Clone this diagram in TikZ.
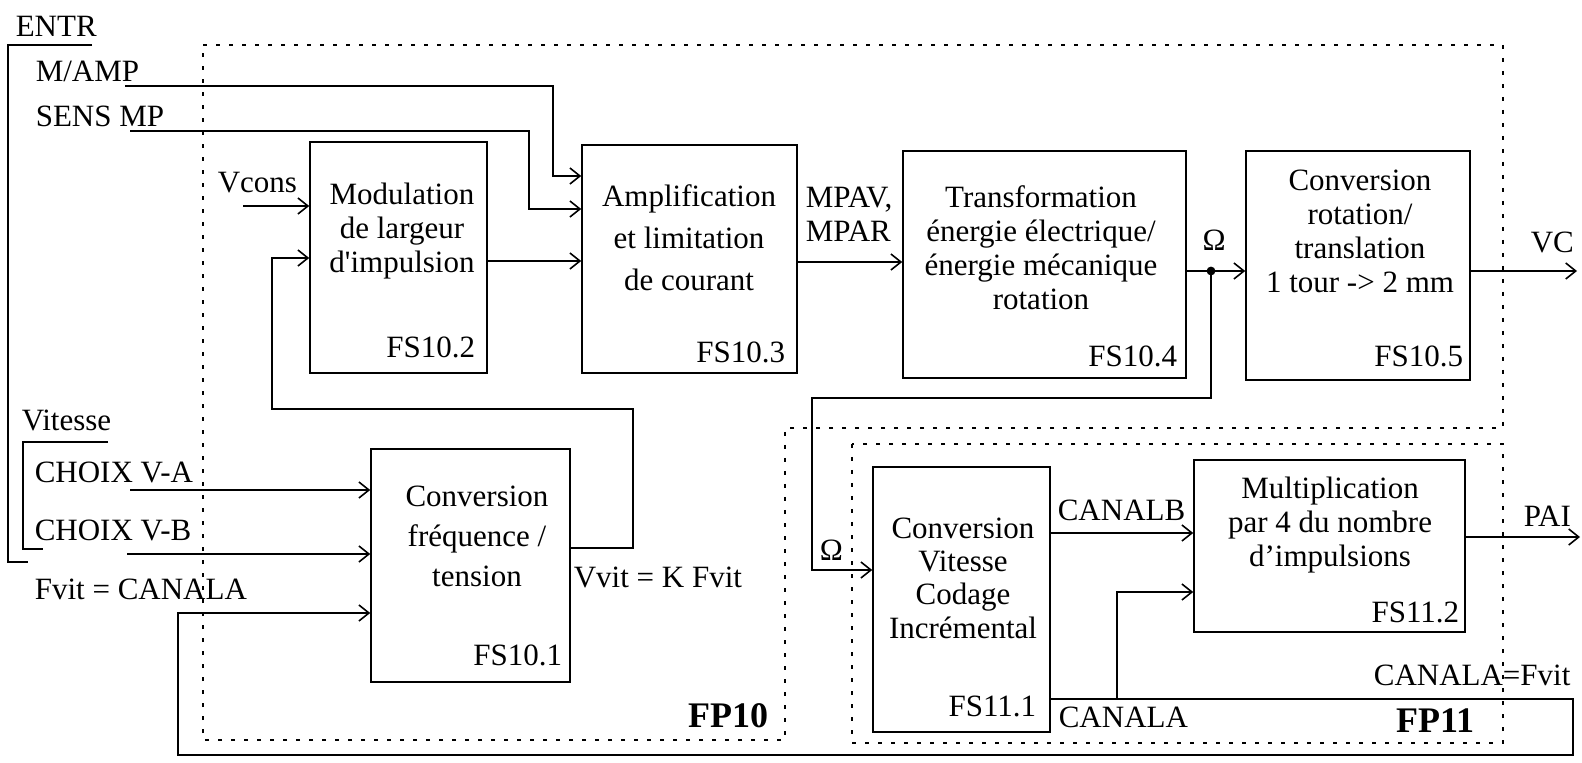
\documentclass[tikz,border=0pt]{standalone}
\usepackage{fontspec}
\setmainfont{Liberation Serif}[Ligatures=TeXOff]
\usetikzlibrary{arrows.meta,fit}

\tikzset{
  fsbox/.style={draw, line width=0.8pt, inner sep=0pt},
  fstxt/.style={align=center, font=\fontsize{15.5}{17}\selectfont},
  lbl/.style={font=\fontsize{15.5}{17}\selectfont, inner sep=0pt, anchor=base west},
  fslbl/.style={font=\fontsize{15.5}{17}\selectfont, inner sep=0pt, anchor=base east},
  fplbl/.style={font=\fontsize{18}{20}\selectfont\bfseries, inner sep=0pt, anchor=base east},
  fpzone/.style={line width=1.1pt, dash pattern=on 2pt off 4.5pt},
}

\begin{document}
\begin{tikzpicture}[x=0.5pt, y=-0.5pt, line width=0.8pt, >={Straight Barb[length=5pt,width=8pt]}]
    \useasboundingbox (0,0) rectangle (1582,763);
    % zones FP10 / FP11
    \draw[fpzone] (203,45) -- (1503,45) -- (1503,428) -- (785,428) -- (785,740) -- (203,740) -- cycle;
    \draw[fpzone] (852,444) rectangle (1503,743);
    \node[fplbl] at(769,727)(fp10){FP10};
    \node[fplbl] at(1475,732)(fp11){FP11};
    %
    \node[fsbox, fit={(310,142) (487,373)}](fs102){};
    \node[fsbox, fit={(582,145) (797,373)}](fs103){};
    \node[fsbox, fit={(903,151) (1186,378)}](fs104){};
    \node[fsbox, fit={(1246,151) (1470,380)}](fs105){};
    \node[fsbox, fit={(371,449) (570,682)}](fs101){};
    \node[fsbox, fit={(873,467) (1050,732)}](fs111){};
    \node[fsbox, fit={(1194,460) (1465,632)}](fs112){};
    %
    \node[fstxt] at(402,231)(t102){Modulation\\de largeur\\d'impulsion};
    \node[fstxt, font=\fontsize{15.5}{21}\selectfont] at(689,238)(t103){Amplification\\et limitation\\de courant};
    \node[fstxt] at(1041,248)(t104){Transformation\\énergie électrique/\\énergie mécanique\\rotation};
    \node[fstxt] at(1360,231)(t105){Conversion\\rotation/\\translation\\1 tour -> 2 mm};
    \node[fstxt, font=\fontsize{15.5}{20}\selectfont] at(477,536)(t101){Conversion\\fréquence /\\tension};
    \node[fstxt, font=\fontsize{15.5}{16.7}\selectfont] at(963,578)(t111){Conversion\\Vitesse\\Codage\\Incrémental};
    \node[fstxt] at(1330,525)(t112){Multiplication\\par 4 du nombre\\d’impulsions};
    %
    \node[fslbl] at(476,358)(l102){FS10.2};
    \node[fslbl] at(786,363)(l103){FS10.3};
    \node[fslbl] at(1178,367)(l104){FS10.4};
    \node[fslbl] at(1464,367)(l105){FS10.5};
    \node[fslbl] at(563,665)(l101){FS10.1};
    \node[fslbl] at(1037,716)(l111){FS11.1};
    \node[fslbl] at(1460,622)(l112){FS11.2};
    % entrees
    \node[lbl] at(15,37)(entr){ENTR};
    \node[lbl] at(35,82)(mamp){M/AMP};
    \node[lbl] at(35,127)(sens){SENS MP};
    \node[lbl] at(217,193)(vcons){Vcons};
    \node[lbl] at(21,431)(vitesse){Vitesse};
    \node[lbl] at(34,483)(choixa){CHOIX V-A};
    \node[lbl] at(34,540)(choixb){CHOIX V-B};
    \node[lbl] at(34,599)(fvit){Fvit = CANALA};
    \node[lbl] at(573,587)(vvit){Vvit = K Fvit};
    \node[lbl, align=left, anchor=west] at(805,214)(mpav){MPAV,\\MPAR};
    \node[lbl, anchor=base] at(1214,251)(omega1){Ω};
    \node[lbl] at(1530,253)(vc){VC};
    \node[lbl] at(819,560)(omega2){Ω};
    \node[lbl] at(1057,521)(canalb){CANALB};
    \node[lbl] at(1523,526)(pai){PAI};
    \node[lbl] at(1373,685)(canalaf){CANALA=Fvit};
    \node[lbl] at(1058,727)(canala){CANALA};
    %
    \coordinate (mampin) at (125,86);
    \coordinate (sensin) at (130,131);
    \coordinate (vconsin) at (243,206);
    \coordinate (choixain) at (130,490);
    \coordinate (choixbin) at (127,554);
    \coordinate (omg) at (1211,271);
    \coordinate (vcout) at (1577,271);
    \coordinate (paiout) at (1580,537);
    % accolades
    \draw (92,45) -- (8,45) -- (8,562) -- (28,562);
    \draw (108,442) -- (23,442) -- (23,549) -- (43,549);
    %
    \draw[->] (mampin) -| (553,176) -- (fs103.west |- 0,176);
    \draw[->] (sensin) -| (529,209) -- (fs103.west |- 0,209);
    \draw[->] (vconsin) -- (fs102.west |- vconsin);
    \draw[->] (fs102.east |- 0,261) -- (fs103.west |- 0,261);
    \draw[->] (fs103.east |- 0,262) -- (fs104.west |- 0,262);
    \draw (fs104.east |- omg) -- (omg);
    \draw[->] (omg) -- (fs105.west |- omg);
    \fill (omg) circle (2.2pt);
    \draw[->] (fs105.east |- omg) -- (vcout);
    \draw[->] (fs101.east |- 0,548) -| (633,409) -| (272,258) -- (fs102.west |- 0,258);
    \draw[->] (omg) -- (1211,398) -| (812,570) -- (fs111.west |- 0,570);
    %
    \draw[->] (choixain) -- (fs101.west |- choixain);
    \draw[->] (choixbin) -- (fs101.west |- choixbin);
    \draw[->] (fs111.east |- 0,533) -- (fs112.west |- 0,533);
    \draw[->] (fs112.east |- paiout) -- (paiout);
    \draw[->] (fs111.east |- 0,699) -| (1573,755) -| (178,613) -- (fs101.west |- 0,613);
    \draw[->] (1117,699) |- (fs112.west |- 0,592);
\end{tikzpicture}
\end{document}
